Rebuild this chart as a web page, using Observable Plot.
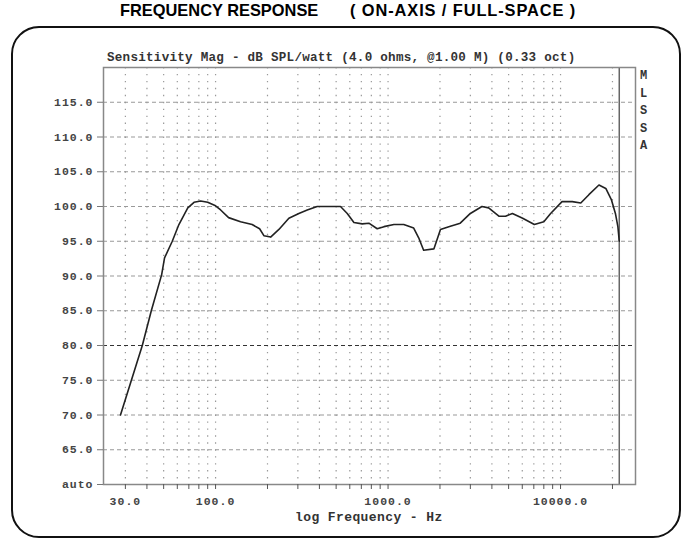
<!DOCTYPE html>
<html>
<head>
<meta charset="utf-8">
<script src="https://cdn.jsdelivr.net/npm/d3@7"></script>
<script src="https://cdn.jsdelivr.net/npm/@observablehq/plot@0.6"></script>
<style>
  html, body { margin: 0; padding: 0; background: #fff; }
  #page { position: relative; width: 688px; height: 542px; overflow: hidden; }
  .title { position: absolute; top: 1px; font: bold 16.4px "Liberation Sans", Arial, sans-serif; color: #000; white-space: pre; }
  #frame { position: absolute; left: 11px; top: 26px; width: 666px; height: 508px; border: 2px solid #111; border-radius: 28px; }
  .mono { position: absolute; font-family: "Liberation Mono", "DejaVu Sans Mono", monospace; font-weight: bold; color: #333; white-space: pre; }
  #chart { position: absolute; left: 0; top: 27px; }
</style>
</head>
<body>
<div id="page">
  <div class="title" style="left:120px">FREQUENCY RESPONSE</div>
  <div class="title" style="left:350px; letter-spacing:0.9px">( ON-AXIS / FULL-SPACE )</div>
  <div id="frame"></div>
  <div class="mono" style="left:107px; top:51px; font-size:12.6px; letter-spacing:0.25px">Sensitivity Mag - dB SPL/watt (4.0 ohms, @1.00 M) (0.33 oct)</div>
  <div class="mono" style="left:640px; top:68px; font-size:12px; line-height:17.5px">M<br>L<br>S<br>S<br>A</div>
  <div class="mono" style="left:295px; top:510px; font-size:13px; letter-spacing:0.4px">log Frequency - Hz</div>
  <div id="chart"></div>
</div>
<script>
// Measured response (Hz, dB SPL)
const freqHz = [28.1, 37.6, 42.4, 48.7, 50.6, 56.1, 61.3, 69, 75, 81.9, 90, 100, 107, 119, 139.6, 163, 180, 190.6, 208.6, 232.9, 266, 304, 340, 388, 530, 580, 634, 708, 774, 865, 947, 1081, 1233, 1408, 1505, 1608, 1843, 2013, 2249, 2621, 3000, 3500, 3830, 4390, 4800, 5260, 6030, 7050, 8000, 8760, 10200, 11700, 13100, 14600, 16700, 18300, 19700, 20800, 21500, 21900];
const splDb  = [70.0, 80.0, 85.0, 90.2, 92.6, 95.0, 97.4, 99.8, 100.6, 100.8, 100.6, 100.1, 99.5, 98.4, 97.8, 97.4, 96.8, 95.8, 95.6, 96.7, 98.3, 99.0, 99.5, 100.0, 100.0, 99.0, 97.7, 97.5, 97.6, 96.8, 97.1, 97.4, 97.4, 96.9, 95.5, 93.7, 93.9, 96.7, 97.1, 97.6, 99.0, 100.0, 99.8, 98.6, 98.6, 99.0, 98.3, 97.4, 97.8, 99.0, 100.7, 100.7, 100.5, 101.7, 103.1, 102.6, 101.0, 99.0, 97.1, 95.0];

// Axes / grid
const xGridHz = [30, 40, 50, 60, 70, 80, 90, 100, 200, 300, 400, 500, 600, 700, 800, 900, 1000, 2000, 3000, 4000, 5000, 6000, 7000, 8000, 9000, 10000, 20000];
const xLabelHz = [30, 100, 1000, 10000];
const xLabelText = ["30.0", "100.0", "1000.0", "10000.0"];
const yGridDb = [65, 70, 75, 80, 85, 90, 95, 100, 105, 110, 115];
const yTickDb = [60, 65, 70, 75, 80, 85, 90, 95, 100, 105, 110, 115];
const yStrongDb = [80];
const markerHz = [21900];

const data = freqHz.map((f, i) => ({f, db: splDb[i]}));
const xLabelMap = new Map(xLabelHz.map((v, i) => [v, xLabelText[i]]));

const chart = Plot.plot({
  width: 688,
  height: 515,
  marginLeft: 103,
  marginRight: 53,
  marginTop: 40,
  marginBottom: 58,
  style: {fontFamily: "'Liberation Mono', 'DejaVu Sans Mono', monospace", fontSize: "11.5px", fontWeight: "bold", letterSpacing: "1px", color: "#444", background: "transparent"},
  x: {type: "log", domain: [22.4, 27200]},
  y: {domain: [60, 120]},
  marks: [
    Plot.ruleX(xGridHz, {stroke: "#999", strokeWidth: 1.2, strokeDasharray: "1.4,5.55"}),
    Plot.ruleY(yGridDb.filter(d => !yStrongDb.includes(d)), {stroke: "#999", strokeWidth: 1, strokeDasharray: "4,3"}),
    Plot.ruleY(yStrongDb, {stroke: "#333", strokeWidth: 1.2, strokeDasharray: "4,3"}),
    Plot.ruleX(markerHz, {stroke: "#666", strokeWidth: 1.5}),
    Plot.frame({stroke: "#888", strokeWidth: 1.5}),
    Plot.line(data, {x: "f", y: "db", stroke: "#222", strokeWidth: 1.6}),
    Plot.axisX({ticks: xGridHz, tickFormat: d => xLabelMap.get(d) ?? "", tickSize: 5, tickPadding: 7, stroke: "#555", label: null}),
    Plot.axisY({ticks: yTickDb, tickFormat: d => d === 60 ? "auto" : d.toFixed(1), tickSize: 6, tickPadding: 4, stroke: "#777", label: null})
  ]
});
document.getElementById("chart").appendChild(chart);
</script>
</body>
</html>
